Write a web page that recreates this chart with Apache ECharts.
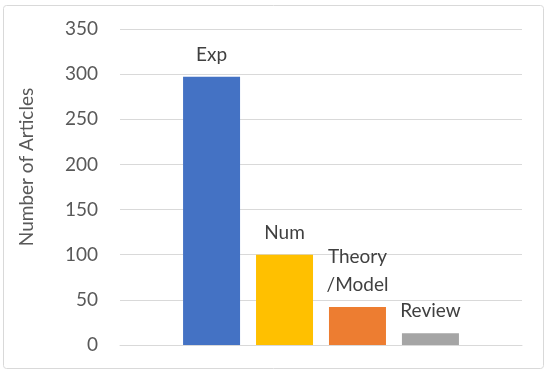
<!DOCTYPE html>
<html><head><meta charset="utf-8">
<script src="https://cdn.jsdelivr.net/npm/echarts@6/dist/echarts.min.js"></script>
<style>html,body{margin:0;padding:0;background:#fff}#c{width:550px;height:374px}</style>
</head><body><div id="c"></div>
<script>
const categories = ['Exp', 'Num', 'Theory\n/Model', 'Review'];
const values = [297, 100, 42, 13];
const colors = ['#4472C4', '#FFC000', '#ED7D31', '#A5A5A5'];
const yTicks = [0, 50, 100, 150, 200, 250, 300, 350];

const chart = echarts.init(document.getElementById('c'), null, {renderer: 'canvas'});
const series = categories.map((name, i) => ({
  type: 'bar',
  name: name,
  data: [values[i]],
  barWidth: 57,
  barGap: '28%',
  itemStyle: {color: colors[i]},
  label: {
    show: true, position: 'top', distance: 8,
    formatter: name,
    fontFamily: 'Lato', fontSize: 19, color: '#404040', lineHeight: 28
  }
}));
chart.setOption({
  animation: false,
  graphic: [{
    type: 'rect', shape: {x: 3.5, y: 5.5, width: 540, height: 363, r: 3},
    style: {fill: 'none', stroke: '#d9d9d9', lineWidth: 1}, silent: true, z: -1
  }],
  grid: {left: 120, right: 28, top: 29, bottom: 29},
  xAxis: {
    type: 'category', data: [''],
    axisLine: {lineStyle: {color: '#d9d9d9', width: 1}},
    axisTick: {show: false}, axisLabel: {show: false}
  },
  yAxis: {
    type: 'value', min: yTicks[0], max: yTicks[yTicks.length - 1], interval: 50,
    name: 'Number of Articles', nameLocation: 'middle', nameGap: 84, nameRotate: 90,
    nameTextStyle: {fontFamily: 'Lato', fontSize: 19, color: '#595959', padding: [0, 0, 0, 40]},
    axisLine: {show: false}, axisTick: {show: false},
    axisLabel: {fontFamily: 'Lato', fontSize: 19, color: '#595959', margin: 22},
    splitLine: {lineStyle: {color: '#d9d9d9', width: 1}}
  },
  series: series
});
</script></body></html>
